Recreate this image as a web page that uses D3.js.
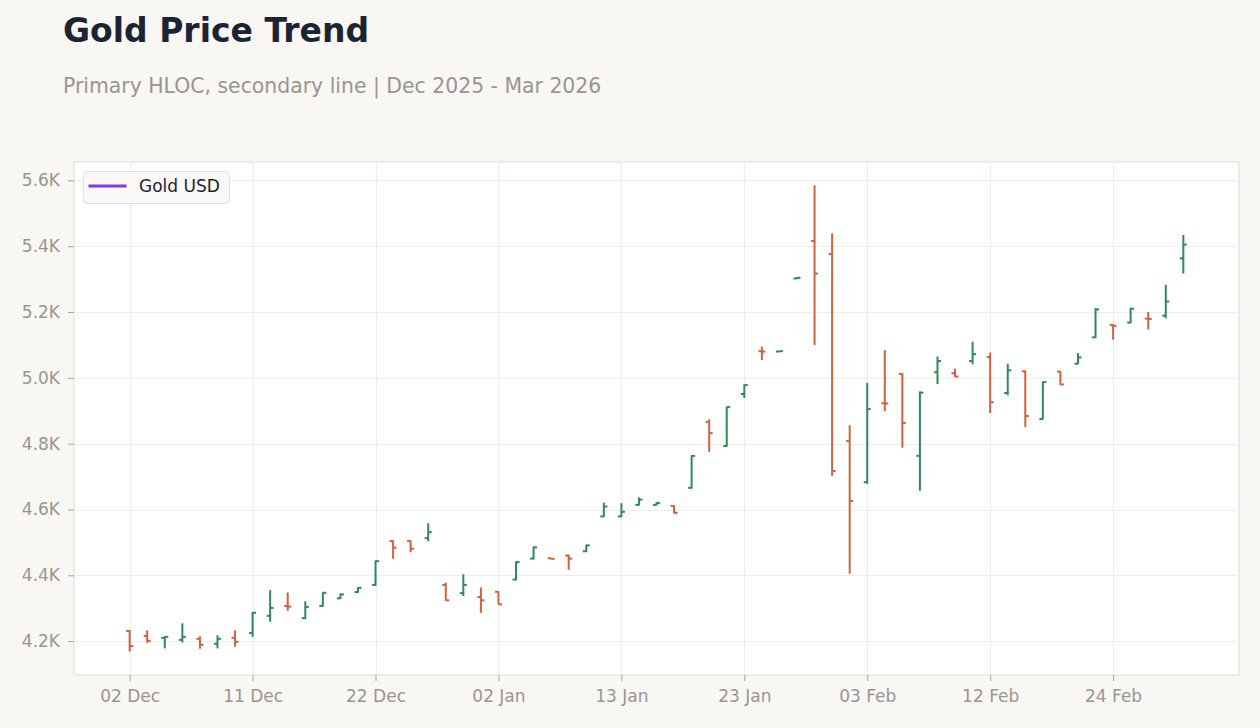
<!DOCTYPE html>
<html>
<head>
<meta charset="utf-8">
<script src="https://cdn.jsdelivr.net/npm/d3@7"></script>
<style>
  html, body { margin: 0; padding: 0; background: #f8f7f4; }
  body { width: 1260px; height: 728px; overflow: hidden; font-family: "DejaVu Sans", sans-serif; }
  .axis text { fill: #9a958e; font-size: 17px; font-family: "DejaVu Sans", sans-serif; }
  .axis path { display: none; }
  .axis line { stroke: #a8a39c; }
</style>
</head>
<body>
<div id="chart"></div>
<script>
// Trading days Dec 2025 - Mar 2026 (holidays skipped)
const dates = [
  "2025-12-02","2025-12-03","2025-12-04","2025-12-05","2025-12-08","2025-12-09","2025-12-10","2025-12-11",
  "2025-12-12","2025-12-15","2025-12-16","2025-12-17","2025-12-18","2025-12-19","2025-12-22","2025-12-23",
  "2025-12-24","2025-12-26","2025-12-29","2025-12-30","2025-12-31","2026-01-02","2026-01-05","2026-01-06",
  "2026-01-07","2026-01-08","2026-01-09","2026-01-12","2026-01-13","2026-01-14","2026-01-15","2026-01-16",
  "2026-01-20","2026-01-21","2026-01-22","2026-01-23","2026-01-26","2026-01-27","2026-01-28","2026-01-29",
  "2026-01-30","2026-02-02","2026-02-03","2026-02-04","2026-02-05","2026-02-06","2026-02-09","2026-02-10",
  "2026-02-11","2026-02-12","2026-02-13","2026-02-17","2026-02-18","2026-02-19","2026-02-20","2026-02-23",
  "2026-02-24","2026-02-25","2026-02-26","2026-02-27","2026-03-02"
];
const open = [
  4231, 4216, 4210, 4204, 4207, 4192, 4210, 4225, 4277, 4307, 4270, 4307, 4330, 4349, 4371, 4504,
  4504, 4513, 4371, 4346, 4334, 4350, 4387, 4451, 4452, 4460, 4473, 4579, 4579, 4614, 4614, 4611,
  4666, 4866, 4793, 4951, 5081, 5080, 5302, 5416, 5376, 4808, 4683, 4923, 5012, 4763, 5017, 5014,
  5051, 5063, 4954, 5020, 4875, 5019, 5043, 5123, 5161, 5168, 5180, 5189, 5363
];
const high = [
  4233, 4233, 4215, 4254, 4215, 4218, 4233, 4289, 4355, 4348, 4321, 4349, 4345, 4364, 4445, 4506,
  4506, 4558, 4378, 4403, 4363, 4352, 4443, 4487, 4453, 4463, 4493, 4621, 4619, 4637, 4622, 4613,
  4765, 4874, 4913, 4980, 5095, 5082, 5305, 5585, 5439, 4856, 4985, 5084, 5014, 4959, 5065, 5028,
  5110, 5077, 5043, 5022, 4989, 5020, 5075, 5212, 5163, 5213, 5200, 5283, 5434
];
const low = [
  4168, 4195, 4178, 4196, 4177, 4178, 4183, 4213, 4259, 4292, 4267, 4305, 4328, 4347, 4368, 4450,
  4470, 4504, 4323, 4337, 4286, 4312, 4385, 4448, 4449, 4417, 4471, 4577, 4577, 4612, 4612, 4588,
  4663, 4775, 4791, 4939, 5054, 5079, 5300, 5100, 4702, 4405, 4678, 4899, 4788, 4657, 4981, 5003,
  5041, 4893, 4947, 4850, 4873, 4978, 5042, 5121, 5116, 5166, 5147, 5181, 5317
];
const close = [
  4185, 4201, 4213, 4213, 4189, 4207, 4198, 4286, 4301, 4305, 4304, 4347, 4342, 4362, 4443, 4484,
  4481, 4531, 4324, 4371, 4324, 4312, 4440, 4485, 4450, 4451, 4491, 4609, 4593, 4630, 4620, 4590,
  4763, 4832, 4911, 4978, 5080, 5081, 5304, 5317, 4717, 4626, 4905, 4922, 4863, 4955, 5051, 5004,
  5072, 4926, 5023, 4884, 4987, 4980, 5062, 5208, 5158, 5210, 5179, 5232, 5405
];
const yTicks = [4200, 4400, 4600, 4800, 5000, 5200, 5400, 5600];
const seriesName = "Gold USD";

const W = 1260, H = 728;
const plot = { left: 74, right: 1239, top: 162, bottom: 675 };
const UP = "#2e8b57", DOWN = "#cf623f";

const bars = dates.map((d, i) => ({ d, o: open[i], h: high[i], l: low[i], c: close[i] }));

const svg = d3.select("#chart").append("svg")
  .attr("width", W).attr("height", H)
  .style("display", "block");

svg.append("rect").attr("width", W).attr("height", H).attr("fill", "#f8f7f4");

// title block
svg.append("text").attr("x", 63).attr("y", 42)
  .attr("font-size", 33).attr("font-weight", 700).attr("fill", "#1c2433")
  .text("Gold Price Trend");
svg.append("text").attr("x", 63).attr("y", 93)
  .attr("font-size", 20.4).attr("fill", "#9a958e")
  .text("Primary HLOC, secondary line | Dec 2025 - Mar 2026");

// scales
const x = d3.scalePoint().domain(dates).range([plot.left, plot.right]).padding(3.17);
const lo = d3.min(low), hi = d3.max(high), pad = (hi - lo) * 0.05;
const y = d3.scaleLinear().domain([lo - pad, hi + pad]).range([plot.bottom, plot.top]);

const xTicks = dates.filter((d, i) => i % 7 === 0);
const parse = d3.timeParse("%Y-%m-%d"), fmtDay = d3.timeFormat("%d %b");

svg.append("rect")
  .attr("x", plot.left).attr("y", plot.top)
  .attr("width", plot.right - plot.left).attr("height", plot.bottom - plot.top)
  .attr("fill", "#ffffff").attr("stroke", "#e0dbd3").attr("stroke-width", 1);

// grid
const grid = svg.append("g").attr("stroke", "#efedea").attr("stroke-width", 1);
grid.selectAll("line.gy").data(yTicks).join("line").attr("class", "gy")
  .attr("x1", plot.left + 1).attr("x2", plot.right - 1)
  .attr("y1", d => Math.round(y(d)) + 0.5).attr("y2", d => Math.round(y(d)) + 0.5);
grid.selectAll("line.gx").data(xTicks).join("line").attr("class", "gx")
  .attr("x1", d => Math.round(x(d)) + 0.5).attr("x2", d => Math.round(x(d)) + 0.5)
  .attr("y1", plot.top + 1).attr("y2", plot.bottom - 1);

// axes
svg.append("g").attr("class", "axis")
  .attr("transform", `translate(${plot.left},0)`)
  .call(d3.axisLeft(y).tickValues(yTicks).tickSize(6).tickPadding(8)
    .tickFormat(v => d3.format(".1f")(v / 1000) + "K"));
svg.append("g").attr("class", "axis")
  .attr("transform", `translate(0,${plot.bottom})`)
  .call(d3.axisBottom(x).tickValues(xTicks).tickSize(6).tickPadding(9)
    .tickFormat(d => fmtDay(parse(d))));

// HLOC bars
const tick = 3.5;
const g = svg.append("g").attr("stroke-width", 2).attr("fill", "none");
const bar = g.selectAll("g.bar").data(bars).join("g").attr("class", "bar")
  .attr("stroke", d => d.c >= d.o ? UP : DOWN);
bar.append("line")
  .attr("x1", d => x(d.d)).attr("x2", d => x(d.d))
  .attr("y1", d => y(d.h)).attr("y2", d => y(d.l));
bar.append("line")
  .attr("x1", d => x(d.d) - tick).attr("x2", d => x(d.d))
  .attr("y1", d => y(d.o)).attr("y2", d => y(d.o));
bar.append("line")
  .attr("x1", d => x(d.d)).attr("x2", d => x(d.d) + tick)
  .attr("y1", d => y(d.c)).attr("y2", d => y(d.c));

// legend
const leg = svg.append("g").attr("transform", "translate(83.5,171.5)");
leg.append("rect").attr("width", 146).attr("height", 32).attr("rx", 4)
  .attr("fill", "#faf9f7").attr("stroke", "#e3dfd8");
leg.append("line").attr("x1", 5).attr("x2", 43).attr("y1", 14.5).attr("y2", 14.5)
  .attr("stroke", "#7c3aed").attr("stroke-width", 3);
leg.append("text").attr("x", 55.5).attr("y", 20.5)
  .attr("font-size", 17).attr("fill", "#1c2433").text(seriesName);
</script>
</body>
</html>
